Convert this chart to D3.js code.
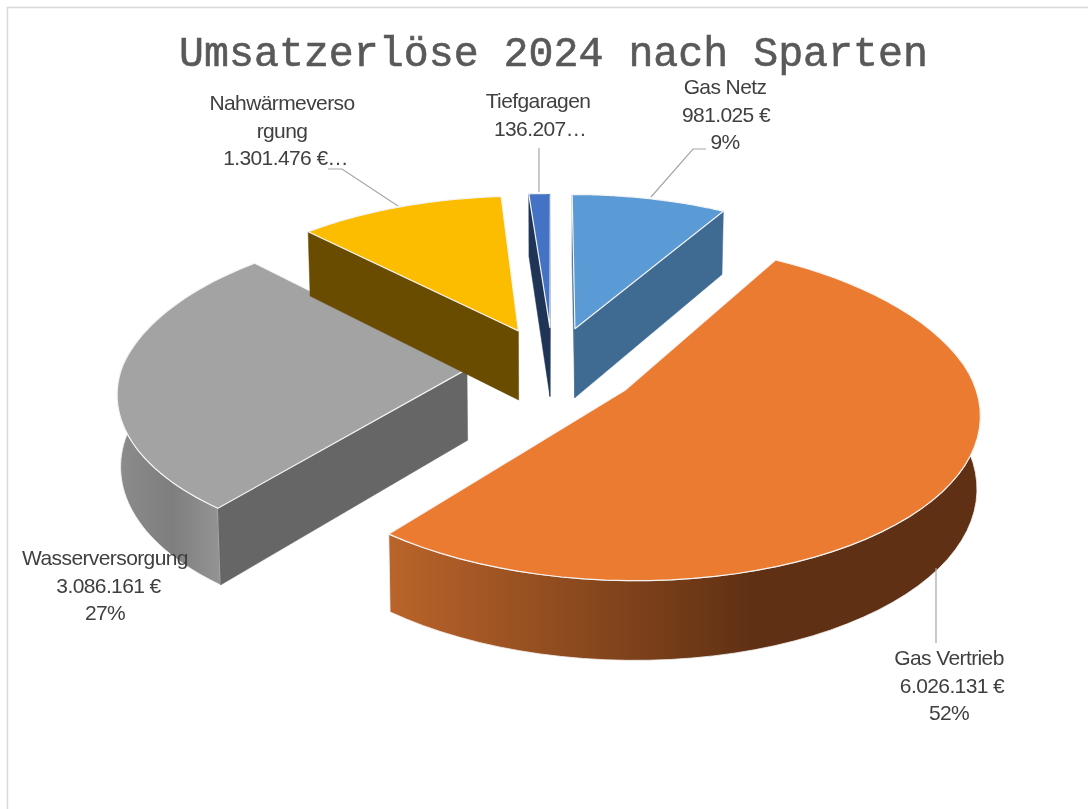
<!DOCTYPE html>
<html>
<head>
<meta charset="utf-8">
<script src="https://cdn.jsdelivr.net/npm/d3@7"></script>
<style>
  body { margin: 0; background: #fff; }
  svg { display: block; filter: blur(0.35px); }
  .label { font-family: "Liberation Sans", Arial, sans-serif; font-size: 21px; fill: #404040; text-anchor: middle; letter-spacing: -0.6px; }
  .title { font-family: "Liberation Mono", monospace; font-size: 41.6px; fill: #595959; stroke: #595959; stroke-width: 0.6px; text-anchor: middle; }
</style>
</head>
<body>
<div id="chart"></div>
<script>
// Data
var title = "Umsatzerlöse 2024 nach Sparten";
var categories = ["Gas Netz", "Gas Vertrieb", "Wasserversorgung", "Nahwärmeversorgung", "Tiefgaragen"];
var values = [981025, 6026131, 3086161, 1301476, 136207];
var labelLines = [
    ["Gas Netz", "981.025 €", "9%"],
    ["Gas Vertrieb", "6.026.131 €", "52%"],
    ["Wasserversorgung", "3.086.161 €", "27%"],
    ["Nahwärmeverso", "rgung", "1.301.476 €…"],
    ["Tiefgaragen", "136.207…"]
];

// Colours per slice
var topColors = ["#5b9bd5", "#eb7b31", "#a3a3a3", "#fcbd00", "#4472c4"];
var faceColors = ["#3f6a92", "#5f3013", "#666666", "#6a4c00", "#1f3557"];
var wallStops = [
    [[0, "#3f6a92"], [1, "#3f6a92"]],
    [[0, "#ba642a"], [0.62, "#5f3013"], [1, "#5f3013"]],
    [[0, "#8c8c8c"], [0.55, "#7e7e7e"], [1, "#939393"]],
    [[0, "#6a4c00"], [1, "#6a4c00"]],
    [[0, "#1f3557"], [1, "#1f3557"]]
];

// Where each label and leader sits
var labelPos = [[725, 94], [949, 665], [105, 565], [282, 110], [538, 108]];
var lineShift = [[0, 1, 0], [0, 3, 0], [0, 3.5, 0], [0, 0, 3.5], [0, 2]];
var leaders = [
    [[651, 197], [693, 149], [706, 149]],
    [[936, 568], [936, 643]],
    [],
    [[328, 169], [342, 169], [398, 206]],
    [[539, 148], [539, 192]]
];

var svgWidth = 1088;
var svgHeight = 809;

// 3D pie setup
var cx = 553, cy = 367;
var radius = 345;
var explode = 86;
var tiltFront = 0.465, tiltBack = 0.478;
var perspFront = 0.125, perspBack = 0.15;
var depth = 71;
var narrow = 0.008;

var svg = d3.select("#chart")
    .append("svg")
    .attr("width", svgWidth)
    .attr("height", svgHeight);

// chart frame, only left and top fall inside the picture
svg.append("path")
    .attr("d", "M7.5,809V7.5H1088")
    .attr("fill", "none")
    .attr("stroke", "#d9d9d9")
    .attr("stroke-width", 1.5);

svg.append("text")
    .attr("class", "title")
    .attr("x", 553.5)
    .attr("y", 66)
    .text(title);

// ground plane -> screen. z is 0 on top of the pie and 1 at the bottom
function project(x, y, z) {
    var s = 1 / (1 + (y > 0 ? perspBack : perspFront) * y / radius);
    var tilt = y > 0 ? tiltBack : tiltFront;
    return [
        cx + x * s * (1 - narrow * z),
        cy - y * tilt * s + z * depth * Math.pow(s, 0.75)
    ];
}

var line = d3.line();

var pie = d3.pie().sort(null).value(d => d).startAngle(0).endAngle(2 * Math.PI);
var arcs = pie(values);

var defs = svg.append("defs");

arcs.forEach(function (d, i) {
    var mid = (d.startAngle + d.endAngle) / 2;
    var ox = explode * Math.sin(mid);
    var oy = explode * Math.cos(mid);

    function rim(a, z) {
        return project(ox + radius * Math.sin(a), oy + radius * Math.cos(a), z);
    }
    var apexTop = project(ox, oy, 0);
    var apexBottom = project(ox, oy, 1);

    var angles = d3.range(0, 61).map(k => d.startAngle + (d.endAngle - d.startAngle) * k / 60);
    var topArc = angles.map(a => rim(a, 0));

    var g = svg.append("g").attr("class", "slice");

    // outer wall, only the front part of the rim
    var front = angles.filter(a => Math.cos(a) < 0.3);
    if (front.length > 1) {
        var wallTop = front.map(a => rim(a, 0));
        var wallBottom = front.map(a => rim(a, 1)).reverse();
        var xs = wallTop.map(p => p[0]);
        var grad = defs.append("linearGradient")
            .attr("id", "wall" + i)
            .attr("gradientUnits", "userSpaceOnUse")
            .attr("x1", d3.min(xs)).attr("x2", d3.max(xs))
            .attr("y1", 0).attr("y2", 0);
        wallStops[i].forEach(function (st) {
            grad.append("stop").attr("offset", st[0]).attr("stop-color", st[1]);
        });
        g.append("path")
            .attr("d", line(wallTop.concat(wallBottom)) + "Z")
            .attr("fill", "url(#wall" + i + ")")
            .attr("stroke", "#f2f2f2")
            .attr("stroke-width", 0.8);
    }

    // cut faces: a face shows only when the slice top lies on the far side of its edge
    var midRim = rim(mid, 0);
    [d.startAngle, d.endAngle].forEach(function (a) {
        var edge = rim(a, 0);
        var ex = edge[0] - apexTop[0], ey = edge[1] - apexTop[1];
        var sideDown = ex;
        var sideTop = ex * (midRim[1] - apexTop[1]) - ey * (midRim[0] - apexTop[0]);
        if (sideDown * sideTop >= 0) return;
        g.append("path")
            .attr("d", line([apexTop, edge, rim(a, 1), apexBottom]) + "Z")
            .attr("fill", faceColors[i])
            .attr("stroke", faceColors[i])
            .attr("stroke-width", 0.5);
    });

    // top
    g.append("path")
        .attr("d", line([apexTop].concat(topArc)) + "Z")
        .attr("fill", topColors[i])
        .attr("stroke", "#f4f4f4")
        .attr("stroke-width", 1.2)
        .attr("stroke-linejoin", "round");
});

// leader lines
leaders.forEach(function (pts) {
    if (!pts.length) return;
    svg.append("path")
        .attr("d", line(pts))
        .attr("fill", "none")
        .attr("stroke", "#a6a6a6")
        .attr("stroke-width", 1.2);
});

// data labels
labelLines.forEach(function (lines, i) {
    lines.forEach(function (txt, k) {
        svg.append("text")
            .attr("class", "label")
            .attr("x", labelPos[i][0] + lineShift[i][k])
            .attr("y", labelPos[i][1] + k * 27.7)
            .text(txt);
    });
});
</script>
</body>
</html>
